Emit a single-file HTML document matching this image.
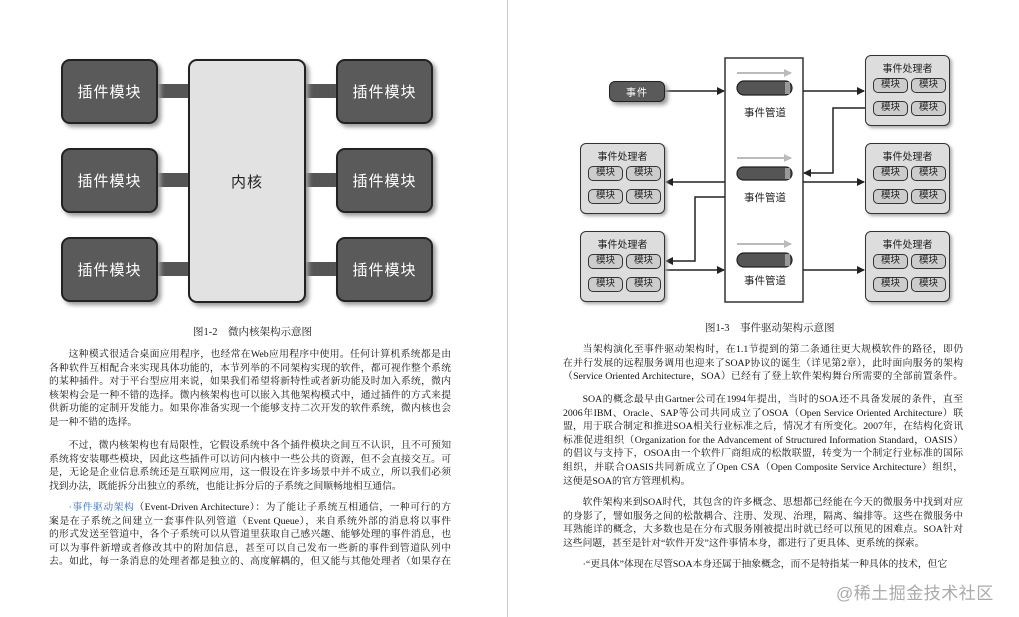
<!DOCTYPE html>
<html><head><meta charset="utf-8">
<style>
body{margin:0;width:1019px;height:617px;background:#fff;position:relative;overflow:hidden;font-family:"Liberation Serif","Noto Serif CJK SC",serif;}
.a{position:absolute;}
.pl{position:absolute;background:#5a5a5a;border:2px solid #222;border-radius:9px;color:#fff;font-family:"Liberation Sans","Noto Sans CJK SC",sans-serif;font-size:15px;display:flex;align-items:center;justify-content:center;box-shadow:3px 3px 4px #999;box-sizing:border-box;letter-spacing:1px;}
.bar{position:absolute;background:#555;height:14px;}
.t{position:absolute;font-size:9.8px;line-height:13.6px;color:#111;text-align:justify;text-align-last:justify;white-space:nowrap;}
.t div{height:13.6px;overflow:hidden;}
.t div.l{text-align-last:left;}
.t div.i{text-indent:2em;}
.cap{position:absolute;font-size:10.5px;color:#222;}
.h{position:absolute;width:85px;height:71px;background:#ddd;border:1.5px solid #333;border-radius:6px;box-sizing:border-box;box-shadow:2px 2px 3px #aaa;font-family:"Liberation Sans","Noto Sans CJK SC",sans-serif;font-size:10px;color:#222;}
.h .ti{position:absolute;top:4px;left:0;width:100%;text-align:center;}
.m{position:absolute;width:35px;height:15px;border:1.5px solid #333;border-radius:5px;background:#ccc;box-sizing:border-box;font-size:9.5px;text-align:center;line-height:12px;}
.sf{font-family:"Liberation Sans","Noto Sans CJK SC",sans-serif;}
</style></head><body>
<div class="a" style="left:507px;top:0;width:1px;height:617px;background:#ccc"></div>

<div class="bar" style="left:155px;top:84px;width:35px"></div>
<div class="bar" style="left:155px;top:173px;width:35px"></div>
<div class="bar" style="left:155px;top:262px;width:35px"></div>
<div class="bar" style="left:304px;top:84px;width:34px"></div>
<div class="bar" style="left:304px;top:173px;width:34px"></div>
<div class="bar" style="left:304px;top:262px;width:34px"></div>
<div class="pl" style="left:61px;top:59px;width:97px;height:65px">插件模块</div>
<div class="pl" style="left:61px;top:148px;width:97px;height:65px">插件模块</div>
<div class="pl" style="left:61px;top:237px;width:97px;height:65px">插件模块</div>
<div class="pl" style="left:336px;top:59px;width:97px;height:65px">插件模块</div>
<div class="pl" style="left:336px;top:148px;width:97px;height:65px">插件模块</div>
<div class="pl" style="left:336px;top:237px;width:97px;height:65px">插件模块</div>
<div class="pl" style="left:188px;top:59px;width:118px;height:244px;background:#e2e2e2;color:#222">内核</div>
<div class="cap" style="left:193px;top:324px">图1-2&nbsp;&nbsp;&nbsp;&nbsp;微内核架构示意图</div>

<svg class="a" style="left:0;top:0" width="1019" height="617">
<defs><marker id="ar" markerWidth="8" markerHeight="8" refX="7" refY="4" orient="auto" markerUnits="userSpaceOnUse"><path d="M0,0 L8,4 L0,8z" fill="#222"/></marker>
<marker id="ag" markerWidth="8" markerHeight="8" refX="7" refY="4" orient="auto" markerUnits="userSpaceOnUse"><path d="M0,0 L8,4 L0,8z" fill="#bbb"/></marker></defs>
<rect x="725" y="58" width="78" height="244" fill="#fff" stroke="#333" stroke-width="1.5"/>
<g stroke="#bbb" stroke-width="2" marker-end="url(#ag)"><line x1="737" y1="73" x2="791" y2="73"/><line x1="737" y1="158" x2="791" y2="158"/><line x1="737" y1="244" x2="791" y2="244"/></g>
<g fill="#555" stroke="#222" stroke-width="1.2"><rect x="737" y="81" width="55" height="14" rx="7"/><rect x="737" y="167" width="55" height="13" rx="6.5"/><rect x="737" y="253" width="55" height="14" rx="7"/></g>
<g fill="#999"><rect x="785" y="82" width="5" height="12"/><rect x="785" y="168" width="5" height="11"/><rect x="785" y="254" width="5" height="12"/></g>
<g stroke="#222" stroke-width="1.5" fill="none" marker-end="url(#ar)">
<line x1="665" y1="91" x2="724" y2="91"/>
<line x1="803" y1="91" x2="864" y2="91"/>
<polyline points="865,108 833,108 833,173 804,173"/>
<line x1="803" y1="182" x2="864" y2="182"/>
<line x1="725" y1="182" x2="666" y2="182"/>
<polyline points="725,197 695,197 695,261 666,261"/>
<line x1="665" y1="270" x2="724" y2="270"/>
<line x1="803" y1="270" x2="864" y2="270"/>
</g>
<g font-family="Liberation Sans,Noto Sans CJK SC,sans-serif" font-size="10.5" fill="#222" text-anchor="middle"><text x="765" y="116">事件管道</text><text x="765" y="201">事件管道</text><text x="765" y="284">事件管道</text></g>
</svg>
<div class="pl" style="left:609px;top:81px;width:56px;height:21px;font-size:10px;border-width:1.5px;border-radius:6px">事件</div>

<div class="h" style="left:865px;top:55px"><div class="ti">事件处理者</div><div class="m" style="left:7px;top:22px">模块</div><div class="m" style="left:45px;top:22px">模块</div><div class="m" style="left:7px;top:45px">模块</div><div class="m" style="left:45px;top:45px">模块</div></div>
<div class="h" style="left:865px;top:143px"><div class="ti">事件处理者</div><div class="m" style="left:7px;top:22px">模块</div><div class="m" style="left:45px;top:22px">模块</div><div class="m" style="left:7px;top:45px">模块</div><div class="m" style="left:45px;top:45px">模块</div></div>
<div class="h" style="left:865px;top:231px"><div class="ti">事件处理者</div><div class="m" style="left:7px;top:22px">模块</div><div class="m" style="left:45px;top:22px">模块</div><div class="m" style="left:7px;top:45px">模块</div><div class="m" style="left:45px;top:45px">模块</div></div>
<div class="h" style="left:580px;top:143px"><div class="ti">事件处理者</div><div class="m" style="left:7px;top:22px">模块</div><div class="m" style="left:45px;top:22px">模块</div><div class="m" style="left:7px;top:45px">模块</div><div class="m" style="left:45px;top:45px">模块</div></div>
<div class="h" style="left:580px;top:231px"><div class="ti">事件处理者</div><div class="m" style="left:7px;top:22px">模块</div><div class="m" style="left:45px;top:22px">模块</div><div class="m" style="left:7px;top:45px">模块</div><div class="m" style="left:45px;top:45px">模块</div></div>
<div class="cap" style="left:705px;top:320px">图1-3&nbsp;&nbsp;&nbsp;&nbsp;事件驱动架构示意图</div>

<div class="t" style="left:49px;top:348px;width:402px">
<div class="i">这种模式很适合桌面应用程序，也经常在Web应用程序中使用。任何计算机系统都是由</div>
<div>各种软件互相配合来实现具体功能的，本节列举的不同架构实现的软件，都可视作整个系统</div>
<div>的某种插件。对于平台型应用来说，如果我们希望将新特性或者新功能及时加入系统，微内</div>
<div>核架构会是一种不错的选择。微内核架构也可以嵌入其他架构模式中，通过插件的方式来提</div>
<div>供新功能的定制开发能力。如果你准备实现一个能够支持二次开发的软件系统，微内核也会</div>
<div class="l">是一种不错的选择。</div>
</div>
<div class="t" style="left:49px;top:439px;width:402px">
<div class="i">不过，微内核架构也有局限性，它假设系统中各个插件模块之间互不认识，且不可预知</div>
<div>系统将安装哪些模块，因此这些插件可以访问内核中一些公共的资源，但不会直接交互。可</div>
<div>是，无论是企业信息系统还是互联网应用，这一假设在许多场景中并不成立，所以我们必须</div>
<div class="l">找到办法，既能拆分出独立的系统，也能让拆分后的子系统之间顺畅地相互通信。</div>
</div>
<div class="t" style="left:49px;top:501px;width:402px">
<div class="i"><span style="color:#2a6ab8">·事件驱动架构</span>（Event-Driven Architecture）：为了能让子系统互相通信，一种可行的方</div>
<div>案是在子系统之间建立一套事件队列管道（Event Queue），来自系统外部的消息将以事件</div>
<div>的形式发送至管道中，各个子系统可以从管道里获取自己感兴趣、能够处理的事件消息，也</div>
<div>可以为事件新增或者修改其中的附加信息，甚至可以自己发布一些新的事件到管道队列中</div>
<div>去。如此，每一条消息的处理者都是独立的、高度解耦的，但又能与其他处理者（如果存在</div>
</div>

<div class="t" style="left:563px;top:343px;width:400px">
<div class="i">当架构演化至事件驱动架构时，在1.1节提到的第二条通往更大规模软件的路径，即仍</div>
<div>在并行发展的远程服务调用也迎来了SOAP协议的诞生（详见第2章），此时面向服务的架构</div>
<div>（Service Oriented Architecture，SOA）已经有了登上软件架构舞台所需要的全部前置条件。</div>
</div>
<div class="t" style="left:563px;top:393px;width:400px">
<div class="i">SOA的概念最早由Gartner公司在1994年提出，当时的SOA还不具备发展的条件，直至</div>
<div>2006年IBM、Oracle、SAP等公司共同成立了OSOA（Open Service Oriented Architecture）联</div>
<div>盟，用于联合制定和推进SOA相关行业标准之后，情况才有所变化。2007年，在结构化资讯</div>
<div>标准促进组织（Organization for the Advancement of Structured Information Standard，OASIS）</div>
<div>的倡议与支持下，OSOA由一个软件厂商组成的松散联盟，转变为一个制定行业标准的国际</div>
<div>组织，并联合OASIS共同新成立了Open CSA（Open Composite Service Architecture）组织，</div>
<div class="l">这便是SOA的官方管理机构。</div>
</div>
<div class="t" style="left:563px;top:496px;width:400px">
<div class="i">软件架构来到SOA时代，其包含的许多概念、思想都已经能在今天的微服务中找到对应</div>
<div>的身影了，譬如服务之间的松散耦合、注册、发现、治理，隔离、编排等。这些在微服务中</div>
<div>耳熟能详的概念，大多数也是在分布式服务刚被提出时就已经可以预见的困难点。SOA针对</div>
<div class="l">这些问题，甚至是针对“软件开发”这件事情本身，都进行了更具体、更系统的探索。</div>
</div>
<div class="t" style="left:563px;top:558px;width:400px">
<div class="l i">·“更具体”体现在尽管SOA本身还属于抽象概念，而不是特指某一种具体的技术，但它</div>
</div>
<div class="a sf" style="left:836px;top:579px;font-size:17px;color:#aaa;letter-spacing:0.5px">@稀土掘金技术社区</div>
</body></html>
